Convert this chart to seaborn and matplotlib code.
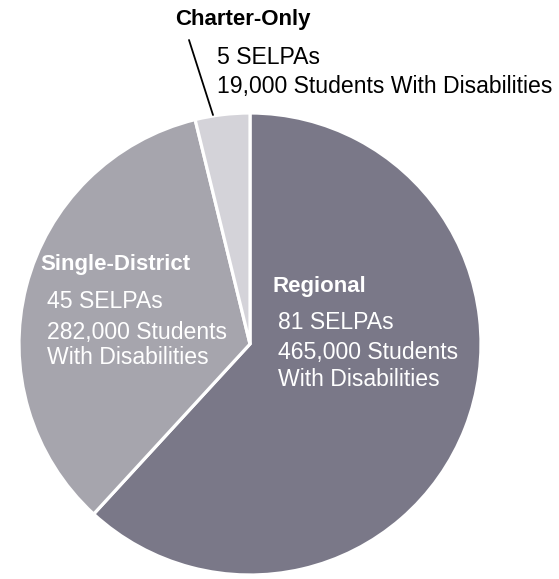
import matplotlib
matplotlib.use("Agg")
import matplotlib.pyplot as plt
import seaborn as sns

categories = ["Regional", "Single-District", "Charter-Only"]
selpas = [81, 45, 5]
students = ["465,000", "282,000", "19,000"]
colors = ["#7a7888", "#a6a5ad", "#d4d3d9"]

sns.set_theme(style="white")
plt.rcParams['font.family'] = ['Liberation Sans', 'DejaVu Sans']

W, H = 559, 579
fig = plt.figure(figsize=(W / 100, H / 100), dpi=100)
fig.patch.set_facecolor("white")

# pie bounds in pixels
cx, cy, r = 250, 344, 231
ax = fig.add_axes([(cx - r) / W, (H - cy - r) / H, 2 * r / W, 2 * r / H])
ax.pie(selpas, colors=colors, startangle=90, counterclock=False,
       wedgeprops=dict(edgecolor="white", linewidth=2.3), radius=1)
ax.set_xlim(-1, 1)
ax.set_ylim(-1, 1)
ax.axis("off")

def t(x, y, s, size=16.6, **kw):
    fig.text(x / W, 1 - y / H, s, va="center", ha="left", fontsize=size, **kw)

# Charter-Only
t(175, 20, "Charter-Only", size=16, fontweight="bold", color="black")
t(217, 58, "5 SELPAs", color="black")
t(217, 87, f"{students[2]} Students With Disabilities", color="black")
fig.add_artist(plt.Line2D([189 / W, 213 / W], [1 - 40 / H, 1 - 115 / H],
                          color="black", linewidth=1.3))

# Single-District
t(40, 265, "Single-District", size=16, fontweight="bold", color="white")
t(47, 301, "45 SELPAs", color="white")
t(47, 332, f"{students[1]} Students", color="white")
t(47, 358, "With Disabilities", color="white")

# Regional
t(272, 286, "Regional", size=16, fontweight="bold", color="white")
t(278, 322, "81 SELPAs", color="white")
t(278, 353, f"{students[0]} Students", color="white")
t(278, 379, "With Disabilities", color="white")

fig.savefig("out.png", dpi=100, facecolor="white")
